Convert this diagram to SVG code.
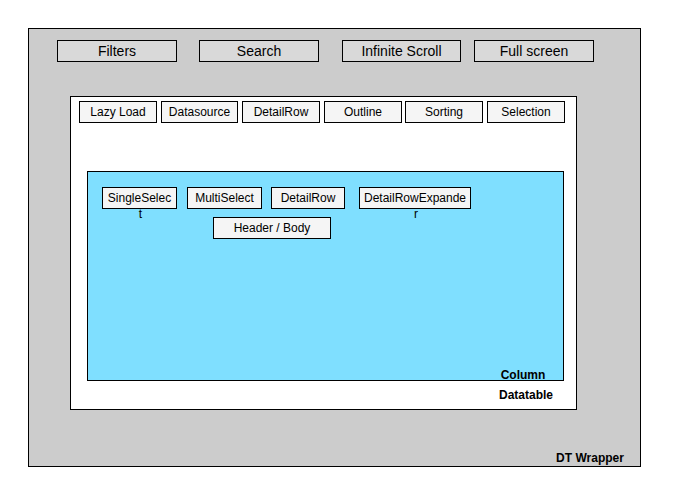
<svg xmlns="http://www.w3.org/2000/svg" width="697" height="498" viewBox="0 0 697 498">
<style>
text{font-family:"Liberation Sans",Arial,sans-serif;fill:#000}
.b{stroke:#000;stroke-width:1}
.top{fill:#d9d9d9}
.btn{fill:#f5f5f5}
.t14{font-size:14px;text-anchor:middle}
.t12{font-size:12px;text-anchor:middle}
.lbl{font-size:12px;font-weight:bold;text-anchor:middle}
</style>
<rect width="697" height="498" fill="#fff"/>
<g id="wrapper">
<rect class="b" x="28.5" y="28.5" width="612" height="438" fill="#cccccc"/>
<text class="lbl" x="590" y="462">DT Wrapper</text>
</g>
<g id="filters"><rect class="b top" x="57.5" y="40.5" width="119" height="21"/><text class="t14" x="117" y="56">Filters</text></g>
<g id="search"><rect class="b top" x="199.5" y="40.5" width="119" height="21"/><text class="t14" x="259" y="56">Search</text></g>
<g id="infinite"><rect class="b top" x="342.5" y="40.5" width="118" height="21"/><text class="t14" x="401.5" y="56">Infinite Scroll</text></g>
<g id="fullscreen"><rect class="b top" x="474.5" y="40.5" width="119" height="21"/><text class="t14" x="534" y="56">Full screen</text></g>
<g id="datatable">
<rect class="b" x="70.5" y="96.5" width="506" height="313" fill="#fff"/>
<text class="lbl" x="526" y="399">Datatable</text>
</g>
<g id="lazyload"><rect class="b btn" x="79.5" y="101.5" width="77" height="21"/><text class="t12" x="118" y="116">Lazy Load</text></g>
<g id="datasource"><rect class="b btn" x="161.5" y="101.5" width="76" height="21"/><text class="t12" x="199.5" y="116">Datasource</text></g>
<g id="detailrow1"><rect class="b btn" x="242.5" y="101.5" width="77" height="21"/><text class="t12" x="281" y="116">DetailRow</text></g>
<g id="outline"><rect class="b btn" x="324.5" y="101.5" width="77" height="21"/><text class="t12" x="363" y="116">Outline</text></g>
<g id="sorting"><rect class="b btn" x="405.5" y="101.5" width="77" height="21"/><text class="t12" x="444" y="116">Sorting</text></g>
<g id="selection"><rect class="b btn" x="487.5" y="101.5" width="77" height="21"/><text class="t12" x="526" y="116">Selection</text></g>
<g id="column">
<rect class="b" x="87.5" y="171.5" width="476" height="209" fill="#7fdfff"/>
<text class="lbl" x="523" y="379">Column</text>
</g>
<g id="singleselect"><rect class="b btn" x="102.5" y="187.5" width="74" height="21"/><text class="t12" x="139.5" y="202">SingleSelec</text><text class="t12" x="140.5" y="218">t</text></g>
<g id="multiselect"><rect class="b btn" x="187.5" y="187.5" width="74" height="21"/><text class="t12" x="224.5" y="202">MultiSelect</text></g>
<g id="detailrow2"><rect class="b btn" x="271.5" y="187.5" width="73" height="21"/><text class="t12" x="308" y="202">DetailRow</text></g>
<g id="detailrowexpander"><rect class="b btn" x="359.5" y="187.5" width="111" height="21"/><text class="t12" x="415" y="202">DetailRowExpande</text><text class="t12" x="416" y="218">r</text></g>
<g id="headerbody"><rect class="b btn" x="213.5" y="217.5" width="117" height="21"/><text class="t12" x="272" y="232">Header / Body</text></g>
<g id="connectors"></g>
</svg>
